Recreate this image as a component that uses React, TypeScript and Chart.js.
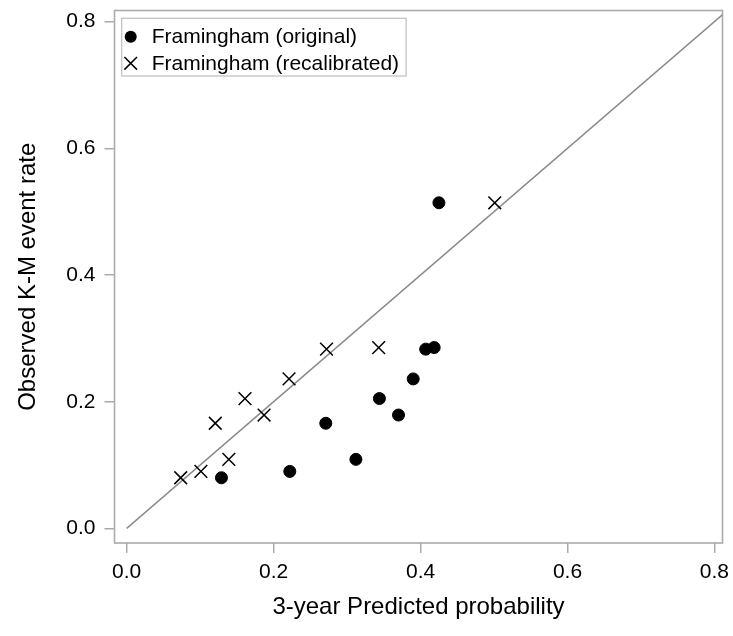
import React, { useEffect, useRef } from 'react';
import { Chart, registerables } from 'chart.js';

Chart.register(...registerables);

const xTickValues = [0, 0.2, 0.4, 0.6, 0.8];
const yTickValues = [0, 0.2, 0.4, 0.6, 0.8];

const originalLabel = 'Framingham (original)';
const originalX = [0.129, 0.222, 0.271, 0.312, 0.344, 0.37, 0.39, 0.407, 0.4185, 0.425];
const originalY = [0.08, 0.09, 0.166, 0.109, 0.205, 0.179, 0.236, 0.283, 0.2855, 0.514];

const recalLabel = 'Framingham (recalibrated)';
const recalX = [0.0735, 0.101, 0.139, 0.1206, 0.161, 0.187, 0.221, 0.272, 0.343, 0.501];
const recalY = [0.08, 0.09, 0.109, 0.166, 0.205, 0.179, 0.236, 0.283, 0.2855, 0.514];

const diagonalX = [0, 0.83];
const diagonalY = [0, 0.83];

const xTitle = '3-year Predicted probability';
const yTitle = 'Observed K-M event rate';

const FONT = "'Liberation Sans', Arial, Helvetica, sans-serif";
const FRAME = '#ababab';

export default function App() {
  const ref = useRef<HTMLCanvasElement>(null);

  useEffect(() => {
    document.body.style.margin = '0';
    const canvas = ref.current;
    if (!canvas) return;

    const framePlugin = {
      id: 'frameBox',
      beforeDatasetsDraw(chart: any) {
        const { ctx, chartArea: a } = chart;
        ctx.save();
        ctx.strokeStyle = FRAME;
        ctx.lineWidth = 1.6;
        ctx.strokeRect(a.left, a.top, a.right - a.left, a.bottom - a.top);
        ctx.restore();
      },
    };

    const legendPlugin = {
      id: 'insetLegend',
      afterDatasetsDraw(chart: any) {
        const { ctx, chartArea: a } = chart;
        ctx.save();
        ctx.font = `21px ${FONT}`;
        const labels = [originalLabel, recalLabel];
        const maxW = Math.max(...labels.map((l) => ctx.measureText(l).width));
        const bx = a.left + 7.2;
        const by = a.top + 7.8;
        const bw = 30 + maxW + 7;
        const bh = 57.7;
        ctx.fillStyle = '#ffffff';
        ctx.fillRect(bx, by, bw, bh);
        ctx.strokeStyle = '#c4c4c4';
        ctx.lineWidth = 1.3;
        ctx.strokeRect(bx, by, bw, bh);
        const rows = [by + 18.4, by + 45];
        const mx = bx + 9;
        // circle marker
        ctx.fillStyle = '#000';
        ctx.beginPath();
        ctx.arc(mx, rows[0], 6, 0, Math.PI * 2);
        ctx.fill();
        // cross marker
        ctx.strokeStyle = '#000';
        ctx.lineWidth = 1.5;
        const r = 6.3;
        ctx.beginPath();
        ctx.moveTo(mx - r, rows[1] - r);
        ctx.lineTo(mx + r, rows[1] + r);
        ctx.moveTo(mx + r, rows[1] - r);
        ctx.lineTo(mx - r, rows[1] + r);
        ctx.stroke();
        ctx.fillStyle = '#000';
        ctx.textBaseline = 'middle';
        ctx.textAlign = 'left';
        ctx.fillText(labels[0], bx + 30, rows[0] + 1);
        ctx.fillText(labels[1], bx + 30, rows[1] + 1);
        ctx.restore();
      },
    };

    const chart = new Chart(canvas, {
      type: 'scatter',
      data: {
        datasets: [
          {
            label: originalLabel,
            data: originalX.map((x, i) => ({ x, y: originalY[i] })),
            pointStyle: 'circle',
            pointRadius: 6,
            pointBorderWidth: 1,
            backgroundColor: '#000',
            borderColor: '#000',
          },
          {
            label: recalLabel,
            data: recalX.map((x, i) => ({ x, y: recalY[i] })),
            pointStyle: 'crossRot',
            pointRadius: 9,
            pointBorderWidth: 1.5,
            backgroundColor: '#000',
            borderColor: '#000',
          },
          {
            type: 'line',
            label: 'diagonal',
            data: diagonalX.map((x, i) => ({ x, y: diagonalY[i] })),
            showLine: true,
            borderColor: '#8a8a8a',
            borderWidth: 1.5,
            pointRadius: 0,
            fill: false,
          } as any,
        ],
      },
      options: {
        responsive: false,
        animation: false,
        events: [],
        layout: { padding: { left: 0, top: 5.5, right: 10.3, bottom: 0 } },
        plugins: {
          legend: { display: false },
          tooltip: { enabled: false },
        },
        scales: {
          x: {
            type: 'linear',
            min: -0.0166,
            max: 0.811,
            afterBuildTicks: (s: any) => {
              s.ticks = xTickValues.map((v) => ({ value: v }));
            },
            afterFit: (s: any) => {
              s.height = 93;
              s.paddingLeft = 0;
              s.paddingRight = 0;
            },
            grid: {
              drawOnChartArea: false,
              drawTicks: true,
              tickLength: 10,
              color: FRAME,
              lineWidth: 1.5,
            },
            border: { display: false },
            ticks: {
              padding: 7,
              color: '#000',
              font: { family: FONT, size: 21 },
              maxRotation: 0,
              callback: (v: any) => Number(v).toFixed(1),
            },
            title: {
              display: true,
              text: xTitle,
              color: '#000',
              font: { family: FONT, size: 24 },
              padding: { top: 0, bottom: 14 },
            },
          },
          y: {
            type: 'linear',
            min: -0.023,
            max: 0.8175,
            afterBuildTicks: (s: any) => {
              s.ticks = yTickValues.map((v) => ({ value: v }));
            },
            afterFit: (s: any) => {
              s.width = 114.5;
              s.paddingTop = 0;
              s.paddingBottom = 0;
            },
            grid: {
              drawOnChartArea: false,
              drawTicks: true,
              tickLength: 10,
              color: FRAME,
              lineWidth: 1.5,
            },
            border: { display: false },
            ticks: {
              padding: 9,
              color: '#000',
              font: { family: FONT, size: 21 },
              callback: (v: any) => Number(v).toFixed(1),
            },
            title: {
              display: true,
              text: yTitle,
              color: '#000',
              font: { family: FONT, size: 24 },
              padding: { top: 14, bottom: 0 },
            },
          },
        },
      },
      plugins: [framePlugin, legendPlugin],
    });

    return () => chart.destroy();
  }, []);

  return (
    <div style={{ position: 'fixed', left: 0, top: 0, width: 733, height: 636 }}>
      <canvas ref={ref} width={733} height={636} style={{ width: 733, height: 636 }} />
    </div>
  );
}
